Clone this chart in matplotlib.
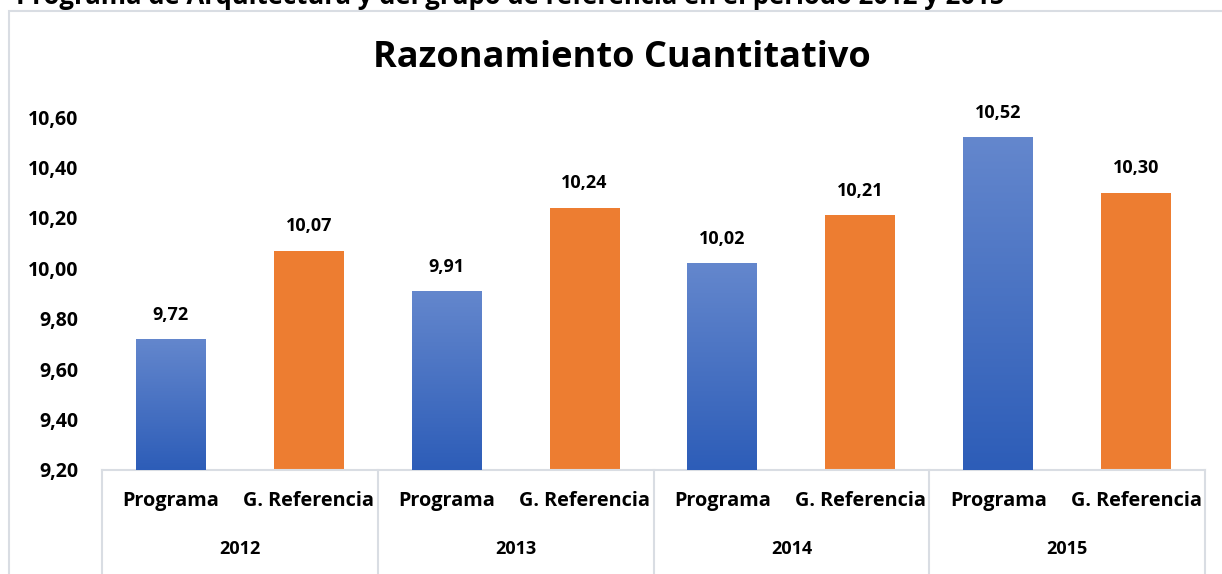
import matplotlib
matplotlib.use("Agg")
import matplotlib.pyplot as plt
import numpy as np
from matplotlib.patches import Rectangle
from matplotlib.colors import LinearSegmentedColormap
import matplotlib.transforms as mtransforms

years = ["2012", "2013", "2014", "2015"]
groups = ["Programa", "G. Referencia"]
programa = [9.72, 9.91, 10.02, 10.52]
referencia = [10.07, 10.24, 10.21, 10.30]
yticks = [9.20, 9.40, 9.60, 9.80, 10.00, 10.20, 10.40, 10.60]
title = "Razonamiento Cuantitativo"
caption = "Programa de Arquitectura y del grupo de referencia en el periodo 2012 y 2015"

FONT = ["Open Sans", "DejaVu Sans"]
plt.rcParams['font.family'] = FONT

W, H = 1222, 574
fig = plt.figure(figsize=(W / 100, H / 100), dpi=100)

def px(x0, y0, x1, y1):
    return [x0 / W, 1 - y1 / H, (x1 - x0) / W, (y1 - y0) / H]

ax = fig.add_axes(px(102, 117, 1205, 470))

# chart frame
fig.patches.append(Rectangle((9 / W, -0.1), 1.2, 1 - 11 / H + 0.1, transform=fig.transFigure,
                             fill=False, edgecolor="#d9dde3", linewidth=1.5, zorder=0))

# caption cut at top (as in the reference)
fig.text(16 / W, 1 - 4 / H, caption, fontsize=18.5, fontweight="bold", va="baseline",
         ha="left", color="black")

ymin = yticks[0]
ymax = yticks[-1]
pos_prog = [2 * i for i in range(len(years))]
pos_ref = [2 * i + 1 for i in range(len(years))]

bw = 0.507
cmap = LinearSegmentedColormap.from_list("bl", ["#2d5db8", "#6487cd"])
grad = np.linspace(0, 1, 256).reshape(-1, 1)

bars_p = ax.bar(pos_prog, np.array(programa) - ymin, bottom=ymin, width=bw, color="#3f6cc4", zorder=2)
bars_r = ax.bar(pos_ref, np.array(referencia) - ymin, bottom=ymin, width=bw, color="#ed7d31", zorder=2)

for b in bars_p:
    x0 = b.get_x(); w = b.get_width(); y0 = b.get_y(); h = b.get_height()
    im = ax.imshow(grad, extent=(x0, x0 + w, y0, y0 + h), origin="lower", cmap=cmap,
                   aspect="auto", zorder=3)
    im.set_clip_path(b)

for bars, v in ((bars_p, programa), (bars_r, referencia)):
    for b, val in zip(bars, v):
        ax.annotate(f"{val:.2f}".replace(".", ","), (b.get_x() + b.get_width() / 2, val),
                    xytext=(0, 11), textcoords="offset points", ha="center", va="bottom",
                    fontsize=13, fontweight="bold", color="black")

ax.set_xlim(-0.5, 2 * len(years) - 0.5)
ax.set_ylim(ymin, ymax)
ax.set_yticks(yticks)
ax.set_yticklabels([f"{t:.2f}".replace(".", ",") for t in yticks], fontsize=14, fontweight="bold")
ax.tick_params(axis="y", length=0, pad=17)
ax.tick_params(axis="x", length=0, labelbottom=False)
for s in ("top", "right", "left"):
    ax.spines[s].set_visible(False)
ax.spines["bottom"].set_color("#d9dde3")
ax.spines["bottom"].set_linewidth(1.5)

trans = mtransforms.blended_transform_factory(ax.transData, ax.transAxes)
axh = 470 - 117
for p in pos_prog:
    ax.text(p, -31 / axh, groups[0], transform=trans, ha="center", va="center",
            fontsize=14.3, fontweight="bold")
for p in pos_ref:
    ax.text(p, -31 / axh, groups[1], transform=trans, ha="center", va="center",
            fontsize=14.3, fontweight="bold")
for i, yr in enumerate(years):
    ax.text(2 * i + 0.5, -79 / axh, yr, transform=trans, ha="center", va="center",
            fontsize=13, fontweight="bold")
for k in range(len(years) + 1):
    xk = 2 * k - 0.5
    ax.plot([xk, xk], [0, -110 / axh], transform=trans, color="#d9dde3", lw=1.5,
            clip_on=False, zorder=1)

fig.text(622 / W, 1 - 58 / H, title, fontsize=26, fontweight="bold", ha="center", va="center")

fig.savefig("out.png", dpi=100)
